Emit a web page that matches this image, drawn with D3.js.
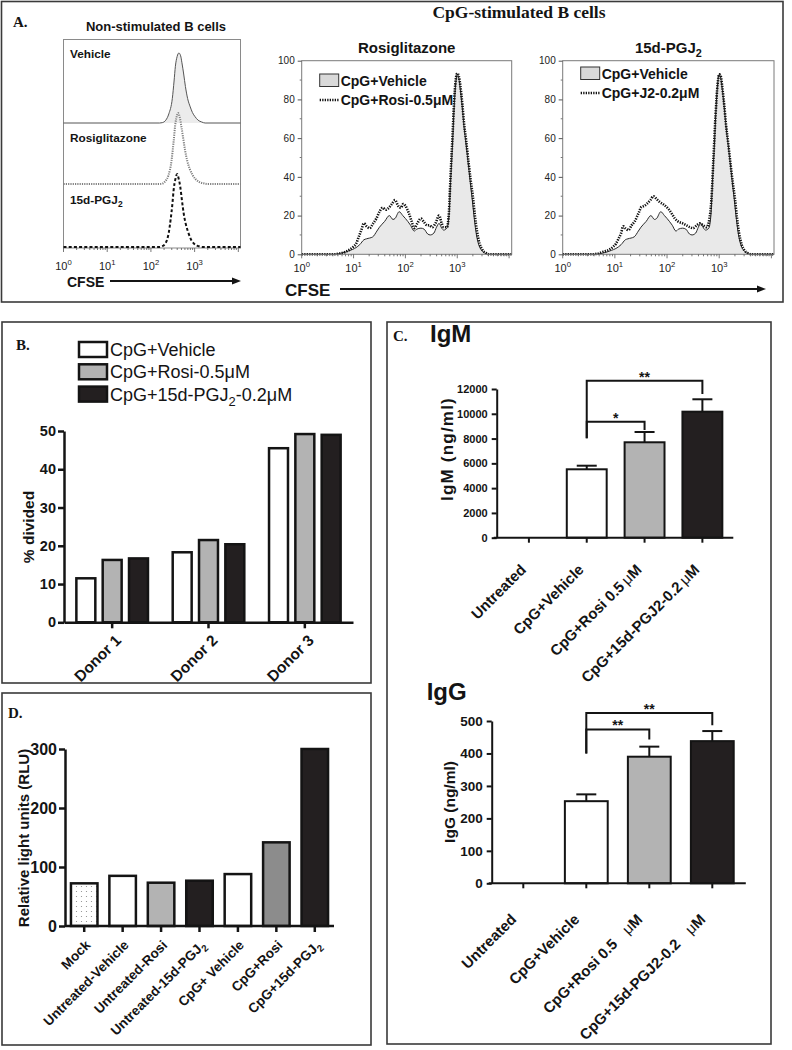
<!DOCTYPE html>
<html><head><meta charset="utf-8">
<script src="https://cdn.jsdelivr.net/npm/d3@7"></script>
<style>body{margin:0;background:#fff}</style>
</head><body>
<svg id="fig" width="792" height="1050" xmlns="http://www.w3.org/2000/svg"></svg>
<script>
// ================= DATA =================
// Panel A: CFSE histograms, points are [log10(CFSE), % of max]
const cfseTickExps = [0, 1, 2, 3];
const cfseMaxExp = 4.05;
const pctTicks = [0, 20, 40, 60, 80, 100];
const nsLabels = ["Vehicle", "Rosiglitazone", "15d-PGJ_{2}"];
const nsVehicle = [[0,0],[2.2,0],[2.26,0.5],[2.34,4],[2.41,13],[2.49,35],[2.53,60],[2.56,81],[2.6,95],[2.64,100],[2.68,96],[2.71,86],[2.75,70],[2.79,52],[2.84,35],[2.9,23],[2.95,15],[3.01,9],[3.08,4],[3.16,1.5],[3.24,0],[4.05,0]];
const nsRosi = [[0,0],[2.2,0],[2.26,0.5],[2.33,4],[2.4,12],[2.47,32],[2.52,60],[2.56,85],[2.6,97],[2.62,100],[2.66,94],[2.7,80],[2.74,64],[2.78,48],[2.83,33],[2.89,21],[2.95,13],[3.02,7],[3.1,3],[3.2,1],[3.3,0],[4.05,0]];
const nsJ2 = [[0,0],[2.2,0],[2.26,1],[2.32,4],[2.37,10],[2.41,20],[2.45,37],[2.49,58],[2.52,78],[2.56,93],[2.6,100],[2.63,95],[2.67,83],[2.71,64],[2.75,46],[2.8,31],[2.86,19],[2.92,10],[2.98,5],[3.05,2],[3.1,1],[3.2,0],[4.05,0]];

const cpgVehicle = [[0,0],[0.6,0],[0.75,0.5],[0.85,1.2],[0.93,2],[1.02,3],[1.12,5],[1.2,7.5],[1.25,8],[1.37,9],[1.45,12],[1.5,14],[1.6,17],[1.69,20],[1.76,18],[1.8,18.5],[1.88,22],[1.95,20],[2.0,18.5],[2.1,15],[2.17,12],[2.22,13],[2.3,13.5],[2.36,13],[2.43,10.5],[2.48,10],[2.55,11],[2.6,14],[2.65,16],[2.7,13.5],[2.74,12.5],[2.8,13.5],[2.84,20],[2.87,37],[2.91,58],[2.94,76],[2.97,88],[3.0,93],[3.03,91],[3.06,85],[3.1,75],[3.13,66],[3.17,57],[3.22,45],[3.26,35],[3.29,28],[3.33,18],[3.37,10],[3.42,4.5],[3.47,2],[3.54,0.5],[3.6,0],[4.05,0]];
const cpgRosi = [[0,0],[0.6,0],[0.75,0.5],[0.85,1.3],[0.93,2.5],[1.0,4],[1.05,5.5],[1.1,9],[1.15,12.5],[1.2,16],[1.25,14.5],[1.31,13.5],[1.38,16],[1.44,18.5],[1.5,22],[1.56,24],[1.62,23],[1.66,23.5],[1.74,26],[1.8,28],[1.86,25],[1.91,24],[1.96,26],[2.0,25],[2.07,21],[2.12,17],[2.17,13.5],[2.23,16],[2.3,18.5],[2.35,17],[2.42,15],[2.46,15],[2.52,14],[2.58,16],[2.65,20],[2.7,16],[2.74,14],[2.8,14],[2.84,22],[2.87,40],[2.91,62],[2.94,79],[2.97,90],[3.0,93.5],[3.03,92],[3.06,87],[3.1,77],[3.13,68],[3.17,59],[3.22,47],[3.26,38],[3.3,30],[3.34,20],[3.38,12],[3.43,5.5],[3.48,2.5],[3.55,0.7],[3.62,0],[4.05,0]];
const cpgJ2 = [[0,0],[0.55,0],[0.7,0.5],[0.78,1.4],[0.9,2.5],[0.97,4],[1.02,5.5],[1.07,8],[1.12,11],[1.16,14.5],[1.2,13.5],[1.26,12.5],[1.32,15],[1.38,17],[1.45,21],[1.51,24.5],[1.56,25],[1.61,26],[1.68,28],[1.74,30],[1.8,28.5],[1.86,27],[1.92,26],[1.99,24.5],[2.04,23],[2.09,21],[2.15,18.5],[2.21,17],[2.3,16],[2.37,15],[2.44,14],[2.5,13.5],[2.57,15],[2.63,16],[2.69,15],[2.76,14],[2.81,18],[2.85,28],[2.89,50],[2.93,72],[2.97,88],[3.0,93],[3.03,92],[3.06,86],[3.1,76],[3.13,67],[3.17,58],[3.22,46],[3.26,37],[3.3,29],[3.34,19],[3.38,11],[3.43,5],[3.48,2.2],[3.55,0.6],[3.62,0],[4.05,0]];

// Panel B
const donors = ["Donor 1", "Donor 2", "Donor 3"];
const bSeries = ["CpG+Vehicle", "CpG+Rosi-0.5\u03bcM", "CpG+15d-PGJ_{2}-0.2\u03bcM"];
const bVehicle = [11.5, 18.3, 45.5];
const bRosi = [16.3, 21.5, 49.2];
const bJ2 = [16.7, 20.4, 49.0];
const bTicks = [0, 10, 20, 30, 40, 50];

// Panel C
const cGroups = ["Untreated", "CpG+Vehicle", "CpG+Rosi 0.5", "CpG+15d-PGJ2-0.2"];
const cUnits = ["", "", "\u03bcM", "\u03bcM"];
const igmMean = [0, 5520, 7700, 10170];
const igmErr = [0, 290, 830, 1000];
const igmTicks = [0, 2000, 4000, 6000, 8000, 10000, 12000];
const iggMean = [0, 253, 390, 438];
const iggErr = [0, 21, 31, 31];
const iggTicks = [0, 100, 200, 300, 400, 500];
// significance brackets: [fromGroup, toGroup, label, barLevel, rightDrop, leftBottom]
const igmSig = [[1, 2, "*", 9360, 8690, 8020], [1, 3, "**", 12670, 11600, 8020]];
const iggSig = [[1, 2, "**", 474, 443, 400], [1, 3, "**", 525, 487, 400]];

// Panel D
const dGroups = ["Mock", "Untreated-Vehicle", "Untreated-Rosi", "Untreated-15d-PGJ_{2}", "CpG+ Vehicle", "CpG+Rosi", "CpG+15d-PGJ_{2}"];
const dValues = [72.3, 85, 73.4, 76.8, 88, 141.8, 300];
const dTicks = [0, 100, 200, 300];

// ================= DRAWING =================
const SANS = "'Liberation Sans', Arial, Helvetica, sans-serif";
const SERIF = "'Liberation Serif', 'Times New Roman', serif";
const NARROW = "'Liberation Sans Narrow', 'Liberation Sans', Arial, sans-serif";
const INK = "#141414", BLK = "#231f20", GRY = "#b3b3b3";
const svg = d3.select("#fig");
svg.append("rect").attr("width", 792).attr("height", 1050).attr("fill", "#fff");

const defs = svg.append("defs");
const pat = defs.append("pattern").attr("id", "dots").attr("patternUnits", "userSpaceOnUse").attr("width", 5).attr("height", 5);
pat.append("rect").attr("width", 5).attr("height", 5).attr("fill", "#fff");
pat.append("circle").attr("cx", 1.5).attr("cy", 1.5).attr("r", 0.6).attr("fill", "#888");

function rich(t, str, fs) {
  const parts = str.split(/(_\{[^}]*\}|\^\{[^}]*\})/).filter(s => s.length);
  let off = 0;
  parts.forEach(p => {
    let m;
    if ((m = p.match(/^_\{(.*)\}$/))) {
      t.append("tspan").attr("dy", 0.28 * fs - off).attr("font-size", 0.72 * fs).text(m[1]); off = 0.28 * fs;
    } else if ((m = p.match(/^\^\{(.*)\}$/))) {
      t.append("tspan").attr("dy", -0.42 * fs - off).attr("font-size", 0.7 * fs).text(m[1]); off = -0.42 * fs;
    } else {
      t.append("tspan").attr("dy", -off).text(p); off = 0;
    }
  });
}
function txt(g, x, y, str, o = {}) {
  const fs = o.size || 12;
  const t = g.append("text").attr("x", x).attr("y", y)
    .attr("font-family", o.family || SANS).attr("font-size", fs)
    .attr("font-weight", o.weight || "bold").attr("fill", o.fill || INK)
    .attr("text-anchor", o.anchor || "start");
  if (o.transform) t.attr("transform", o.transform);
  if (o.ls) t.attr("letter-spacing", o.ls);
  rich(t, str, fs);
  return t;
}
function frame(x0, y0, x1, y1) {
  svg.append("rect").attr("x", x0).attr("y", y0).attr("width", x1 - x0).attr("height", y1 - y0)
    .attr("fill", "none").attr("stroke", "#3a3a3a").attr("stroke-width", 1.6);
}
function arrow(g, x0, x1, y) {
  g.append("line").attr("x1", x0).attr("x2", x1 - 6).attr("y1", y).attr("y2", y).attr("stroke", INK).attr("stroke-width", 1.8);
  g.append("path").attr("d", `M${x1},${y}L${x1 - 9},${y - 3.5}L${x1 - 9},${y + 3.5}Z`).attr("fill", INK);
}
function logAxis(g, x, yAxis, labelY, fs, opts = {}) {
  const ticks = x.ticks();
  g.selectAll(null).data(ticks).join("line")
    .attr("x1", d => x(d)).attr("x2", d => x(d))
    .attr("y1", yAxis).attr("y2", d => yAxis + (Math.abs(Math.log10(d) - Math.round(Math.log10(d))) < 1e-6 ? 4 : 2))
    .attr("stroke", "#555").attr("stroke-width", 0.8);
  cfseTickExps.forEach(e => {
    txt(g, x(Math.pow(10, e)), labelY, "10^{" + e + "}", { size: fs, weight: opts.weight || "normal", family: NARROW, anchor: "middle", fill: "#222" });
  });
}

// ---------- Panel A ----------
frame(1.5, 1.5, 783, 302);
const gA = svg.append("g");
txt(gA, 13, 27, "A.", { family: SERIF, size: 15 });
txt(gA, 156, 31, "Non-stimulated B cells", { size: 13, anchor: "middle" });
txt(gA, 519, 18, "CpG-stimulated B cells", { family: SERIF, size: 17.5, anchor: "middle" });

// left stacked histograms
const xNS = d3.scaleLog().domain([1, Math.pow(10, cfseMaxExp)]).range([63.5, 240.5]);
gA.append("rect").attr("x", 63.5).attr("y", 39.5).attr("width", 177).attr("height", 208.5)
  .attr("fill", "none").attr("stroke", "#8a8a8a").attr("stroke-width", 1);
const nsSets = [
  { data: nsVehicle, base: 123, top: 53, fill: "#ececec", stroke: "#555", w: 1, dash: null, lab: 58 },
  { data: nsRosi, base: 184, top: 113, fill: "none", stroke: "#808080", w: 2, dash: "1.2,1.1", lab: 142 },
  { data: nsJ2, base: 247, top: 174, fill: "none", stroke: "#111", w: 2, dash: "3,2.2", lab: 204 }
];
nsSets.forEach((s, i) => {
  const y = d3.scaleLinear().domain([0, 100]).range([s.base, s.top]);
  if (s.fill !== "none") {
    gA.append("path").datum(s.data).attr("fill", s.fill)
      .attr("d", d3.area().x(d => xNS(Math.pow(10, d[0]))).y0(y(0)).y1(d => y(d[1])).curve(d3.curveMonotoneX));
  }
  gA.append("path").datum(s.data).attr("fill", "none").attr("stroke", s.stroke).attr("stroke-width", s.w)
    .attr("stroke-dasharray", s.dash)
    .attr("d", d3.line().x(d => xNS(Math.pow(10, d[0]))).y(d => y(d[1])).curve(d3.curveMonotoneX));
  txt(gA, 70, s.lab, nsLabels[i], { size: 11.8 });
});
logAxis(gA, xNS, 248, 270, 11, { weight: "normal" });
txt(gA, 67, 287, "CFSE", { size: 14 });
arrow(gA, 110, 241, 281);

// CpG histograms
const yCpG = d3.scaleLinear().domain([0, 100]).range([254.3, 60.7]);
function drawCpg(xr, dotted, title, legend2, legY) {
  const g = svg.append("g");
  const x = d3.scaleLog().domain([1, Math.pow(10, cfseMaxExp)]).range(xr);
  const line = d3.line().x(d => x(Math.pow(10, d[0]))).y(d => yCpG(d[1])).curve(d3.curveMonotoneX);
  g.append("path").datum(cpgVehicle).attr("fill", "#e9e9e9")
    .attr("d", d3.area().x(d => x(Math.pow(10, d[0]))).y0(yCpG(0)).y1(d => yCpG(d[1])).curve(d3.curveMonotoneX));
  g.append("path").datum(cpgVehicle).attr("fill", "none").attr("stroke", "#2a2a2a").attr("stroke-width", 1).attr("d", line);
  g.append("path").datum(dotted).attr("fill", "none").attr("stroke", "#111").attr("stroke-width", 2.6)
    .attr("stroke-dasharray", "1.3,1.2").attr("d", line);
  g.append("rect").attr("x", xr[0]).attr("y", yCpG(100)).attr("width", xr[1] - xr[0]).attr("height", yCpG(0) - yCpG(100))
    .attr("fill", "none").attr("stroke", "#7a7a7a").attr("stroke-width", 1);
  const ya = g.append("g").attr("transform", `translate(${xr[0]},0)`)
    .call(d3.axisLeft(yCpG).tickValues(pctTicks).tickSize(4).tickSizeOuter(0).tickPadding(3));
  ya.select(".domain").remove();
  ya.selectAll("line").attr("stroke", "#555");
  ya.selectAll("text").attr("font-family", NARROW).attr("font-size", 10).attr("fill", "#222");
  g.selectAll(null).data(d3.range(10, 100, 20)).join("line")
    .attr("x1", xr[0]).attr("x2", xr[0] - 2).attr("y1", d => yCpG(d)).attr("y2", d => yCpG(d)).attr("stroke", "#777");
  logAxis(g, x, 254.3, 272, 11);
  txt(g, (xr[0] + xr[1]) / 2, 53, title, { size: 15, anchor: "middle" });
  const lx = xr[0] + 18;
  g.append("rect").attr("x", lx).attr("y", legY).attr("width", 19).attr("height", 12.5)
    .attr("fill", "#d9d9d9").attr("stroke", "#333").attr("stroke-width", 1);
  txt(g, lx + 21, legY + 11.5, "CpG+Vehicle", { size: 14 });
  g.append("line").attr("x1", lx).attr("x2", lx + 19).attr("y1", legY + 26).attr("y2", legY + 26)
    .attr("stroke", "#111").attr("stroke-width", 2.6).attr("stroke-dasharray", "1.3,1.2");
  txt(g, lx + 21, legY + 30.5, legend2, { size: 14 });
}
drawCpg([301.7, 511.7], cpgRosi, "Rosiglitazone", "CpG+Rosi-0.5\u03bcM", 74);
drawCpg([562.7, 774], cpgJ2, "15d-PGJ_{2}", "CpG+J2-0.2\u03bcM", 67);
txt(gA, 285, 296, "CFSE", { size: 17 });
arrow(gA, 340, 766, 289);

// ---------- Panel B ----------
frame(2, 322, 371, 683);
const gB = svg.append("g");
txt(gB, 16, 350, "B.", { family: SERIF, size: 15 });
const bFill = ["#fff", GRY, BLK];
bSeries.forEach((s, i) => {
  gB.append("rect").attr("x", 79).attr("y", 342 + i * 22.3).attr("width", 28).attr("height", 15)
    .attr("fill", bFill[i]).attr("stroke", INK).attr("stroke-width", 2.5);
  txt(gB, 110, 356 + i * 22.3, s, { size: 18, weight: "normal" });
});
const xB = d3.scaleBand().domain(donors).range([64, 353]);
const xBs = d3.scaleBand().domain(bSeries).range([0, xB.bandwidth()]).paddingInner(0.28).paddingOuter(0.47);
const yB = d3.scaleLinear().domain([0, 50]).range([622.3, 431]);
const bVals = [bVehicle, bRosi, bJ2];
donors.forEach((dn, j) => {
  bSeries.forEach((s, i) => {
    const v = bVals[i][j];
    gB.append("rect").attr("x", xB(dn) + xBs(s)).attr("width", xBs.bandwidth())
      .attr("y", yB(v)).attr("height", yB(0) - yB(v))
      .attr("fill", bFill[i]).attr("stroke", INK).attr("stroke-width", 2.5);
  });
});
function styleAxis(a, w, fs) {
  a.selectAll("line").attr("stroke", INK).attr("stroke-width", w);
  a.select(".domain").attr("stroke", INK).attr("stroke-width", w);
  a.selectAll("text").attr("font-family", SANS).attr("font-weight", "bold").attr("font-size", fs).attr("fill", INK);
}
const ayB = gB.append("g").attr("transform", "translate(64,0)")
  .call(d3.axisLeft(yB).tickValues(bTicks).tickSize(6).tickSizeOuter(0).tickPadding(2));
styleAxis(ayB, 2.5, 14.5);
const axB = gB.append("g").attr("transform", `translate(0,${yB(0)})`)
  .call(d3.axisBottom(xB).tickSize(6).tickSizeOuter(0).tickFormat(""));
styleAxis(axB, 2.5, 14);
donors.forEach(dn => {
  const cx = xB(dn) + xB.bandwidth() / 2;
  txt(gB, 0, 0, dn, { size: 15.5, anchor: "end", transform: `translate(${cx + 10},${yB(0) + 19}) rotate(-45)` });
});
txt(gB, 0, 0, "% divided", { size: 15.5, anchor: "middle", transform: `translate(34,527) rotate(-90)` });

// ---------- Panel C ----------
frame(387, 322, 771, 1044);
const gC = svg.append("g");
txt(gC, 393, 341, "C.", { family: SERIF, size: 15 });
const cFill = ["#fff", "#fff", GRY, BLK];
function drawIg(cfg) {
  const g = svg.append("g");
  const x = d3.scaleBand().domain(cGroups).range(cfg.xr).paddingInner(cfg.pi).paddingOuter(cfg.pi / 2);
  const y = d3.scaleLinear().domain([0, cfg.ymax]).range(cfg.yr);
  txt(g, cfg.titlePos[0], cfg.titlePos[1], cfg.title, { size: 24 });
  cGroups.forEach((k, i) => {
    const v = cfg.mean[i], e = cfg.err[i];
    const cx = x(k) + x.bandwidth() / 2;
    if (v > 0) {
      g.append("line").attr("x1", cx).attr("x2", cx).attr("y1", y(v)).attr("y2", y(v + e)).attr("stroke", INK).attr("stroke-width", 2);
      g.append("line").attr("x1", cx - 10).attr("x2", cx + 10).attr("y1", y(v + e)).attr("y2", y(v + e)).attr("stroke", INK).attr("stroke-width", 2);
      g.append("rect").attr("x", x(k)).attr("width", x.bandwidth()).attr("y", y(v)).attr("height", y(0) - y(v))
        .attr("fill", cFill[i]).attr("stroke", INK).attr("stroke-width", 2);
    }
  });
  const ay = g.append("g").attr("transform", `translate(${cfg.yAxisX},0)`)
    .call(d3.axisLeft(y).tickValues(cfg.ticks).tickSize(5).tickSizeOuter(0).tickPadding(4).tickFormat(d3.format("d")));
  styleAxis(ay, 2, cfg.tickFs);
  const ax = g.append("g").attr("transform", `translate(0,${y(0)})`)
    .call(d3.axisBottom(x).tickSize(5).tickSizeOuter(0).tickFormat(""));
  styleAxis(ax, 2, 12);
  ax.select(".domain").attr("d", `M${cfg.yAxisX - 3},0H${cfg.xr[1] + 2}`);
  cGroups.forEach((k, i) => {
    const cx = x(k) + x.bandwidth() / 2;
    const t = txt(g, 0, 0, k, { size: 15, anchor: "end", transform: `translate(${cx + cfg.lab[0]},${y(0) + cfg.lab[1]}) rotate(-45)` });
    if (cUnits[i]) {
      t.append("tspan").attr("dx", cfg.gap).attr("font-weight", "normal").text(cUnits[i].charAt(0));
      t.append("tspan").text(cUnits[i].slice(1));
    }
  });
  txt(g, 0, 0, cfg.ylabel, { size: cfg.ylabFs, anchor: "middle", ls: cfg.ylabLs, transform: `translate(${cfg.ylabPos[0]},${cfg.ylabPos[1]}) rotate(-90)` });
  cfg.sig.forEach(s => {
    const x1 = x(cGroups[s[0]]) + x.bandwidth() / 2, x2 = x(cGroups[s[1]]) + x.bandwidth() / 2;
    g.append("path").attr("d", `M${x1},${y(s[5])}V${y(s[3])}H${x2}V${y(s[4])}`)
      .attr("fill", "none").attr("stroke", INK).attr("stroke-width", 2);
    txt(g, (x1 + x2) / 2, y(s[3]) + 1, s[2], { size: 14, anchor: "middle" });
  });
}
drawIg({ xr: [500, 731.3], pi: 0.31, ymax: 12000, yr: [537.7, 389], mean: igmMean, err: igmErr, ticks: igmTicks,
  yAxisX: 496.7, tickFs: 11, title: "IgM", titlePos: [430, 342], ylabel: "IgM (ng/ml)", ylabFs: 17, ylabLs: 1.2, ylabPos: [453, 449],
  sig: igmSig, lab: [-2, 33], gap: 3 });
drawIg({ xr: [491.8, 743.8], pi: 0.32, ymax: 500, yr: [883.3, 721], mean: iggMean, err: iggErr, ticks: iggTicks,
  yAxisX: 491.7, tickFs: 13.5, title: "IgG", titlePos: [426.7, 700], ylabel: "IgG (ng/ml)", ylabFs: 15.5, ylabLs: 0, ylabPos: [455, 802],
  sig: iggSig, lab: [-6, 37], gap: 14 });

// ---------- Panel D ----------
frame(2, 693, 371, 1045);
const gD = svg.append("g");
txt(gD, 8, 718, "D.", { family: SERIF, size: 15 });
const dFill = ["url(#dots)", "#fff", GRY, BLK, "#fff", "#8c8c8c", BLK];
const xD = d3.scaleBand().domain(dGroups).range([65, 334]).paddingInner(0.31).paddingOuter(0.155);
const yD = d3.scaleLinear().domain([0, 300]).range([926, 749]);
dGroups.forEach((k, i) => {
  gD.append("rect").attr("x", xD(k)).attr("width", xD.bandwidth()).attr("y", yD(dValues[i])).attr("height", yD(0) - yD(dValues[i]))
    .attr("fill", dFill[i]).attr("stroke", INK).attr("stroke-width", 2.5);
});
const ayD = gD.append("g").attr("transform", "translate(65,0)")
  .call(d3.axisLeft(yD).tickValues(dTicks).tickSize(6).tickSizeOuter(0).tickPadding(2));
styleAxis(ayD, 2.5, 16);
const axD = gD.append("g").attr("transform", `translate(0,${yD(0)})`)
  .call(d3.axisBottom(xD).tickSize(6).tickSizeOuter(0).tickFormat(""));
styleAxis(axD, 2.5, 12);
axD.select(".domain").attr("d", "M65,0H334");
dGroups.forEach(k => {
  const cx = xD(k) + xD.bandwidth() / 2;
  txt(gD, 0, 0, k, { size: 13.5, anchor: "end", transform: `translate(${cx + 7},${yD(0) + 20}) rotate(-45)` });
});
txt(gD, 0, 0, "Relative light units (RLU)", { size: 15, anchor: "middle", transform: "translate(29,838) rotate(-90)" });
</script>
</body></html>
